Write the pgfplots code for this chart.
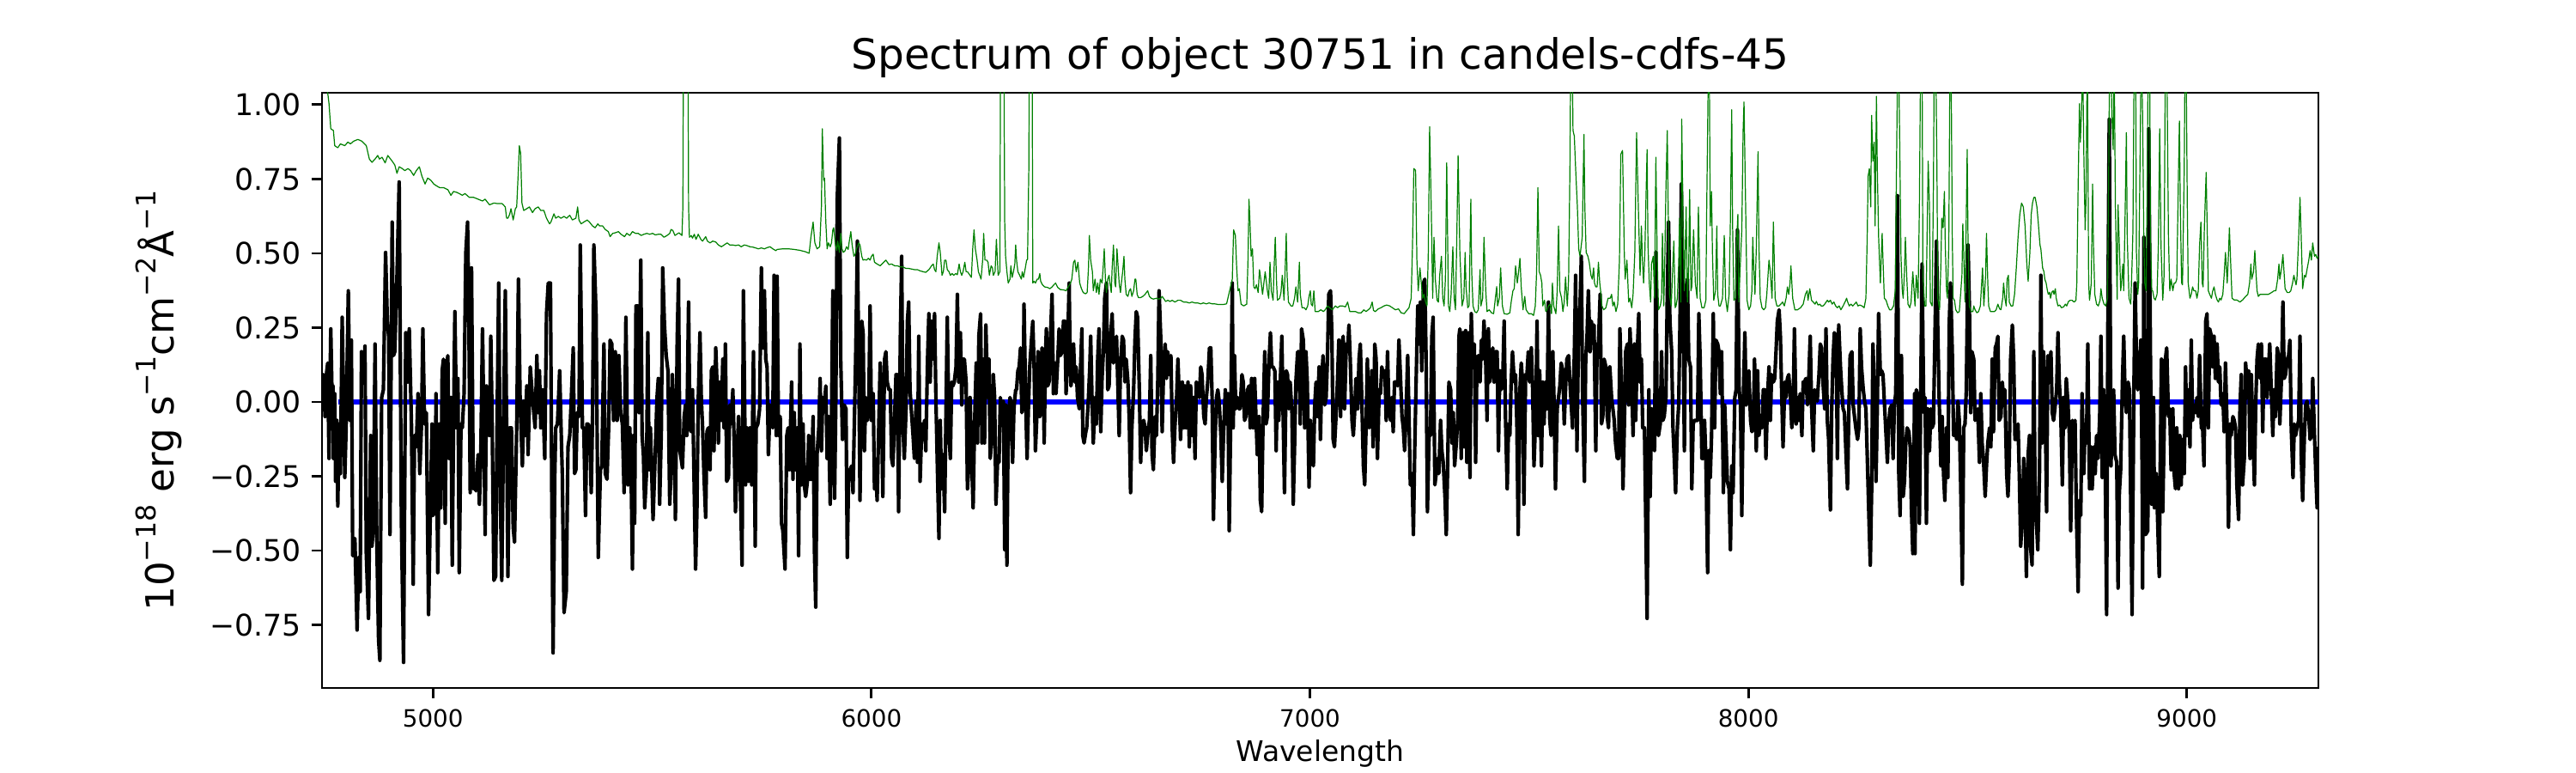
\documentclass[border=0pt]{standalone}
\usepackage{fontspec}
\setmainfont{DejaVu Sans}
\usepackage{pgfplots}
\pgfplotsset{compat=1.18}
\definecolor{mplgreen}{rgb}{0,0.5,0}
\newcommand{\sups}[1]{\raisebox{0.45em}{\fontsize{9.1}{10}\selectfont #1}}
\begin{document}
\begin{tikzpicture}
\path[use as bounding box] (0,0) rectangle (864pt,259.2pt);
\begin{axis}[
  at={(108pt,28.5pt)}, anchor=south west,
  width=669.6pt, height=199.6pt, scale only axis,
  xmin=4747, xmax=9300, ymin=-0.962, ymax=1.04,
  axis line style={line width=0.8pt},
  tick align=outside, xtick pos=bottom, ytick pos=left,
  major tick length=3.5pt,
  tick style={line width=0.8pt, black},
  xtick={5000,6000,7000,8000,9000},
  xticklabels={5000,6000,7000,8000,9000},
  ytick={-0.75,-0.5,-0.25,0,0.25,0.5,0.75,1},
  yticklabels={−0.75,−0.50,−0.25,0.00,0.25,0.50,0.75,1.00},
  xticklabel style={font=\fontsize{8}{9.6}\selectfont},
  yticklabel style={font=\fontsize{10}{12}\selectfont},
  title={Spectrum of object 30751 in candels-cdfs-45},
  title style={at={(axis description cs:0.5,1)}, anchor=base, yshift=1.8pt, font=\fontsize{14}{16.8}\selectfont},
  xlabel={Wavelength},
  xlabel style={at={(axis description cs:0.5,0)}, anchor=base, yshift=-24.5pt, font=\fontsize{9.5}{11.4}\selectfont},
  ylabel={10\sups{−18} erg s\sups{−1}cm\sups{−2}Å\sups{−1}},
  ylabel style={at={(axis description cs:-0.0817,0.4825)}, anchor=center, rotate=0, font=\fontsize{13}{15.6}\selectfont},
]
\addplot[blue, line width=1.6pt, mark=none] coordinates {(4785,0)(9300,0)};
\addplot[black, line width=1.2pt, line join=round, mark=none] coordinates {
(4747,0.067)(4750,0.092)(4754,-0.049)(4757,0.092)(4760,0.131)(4763,-0.190)(4767,0.246)(4770,0.015)(4772,0.054)(4773,-0.190)(4776,0.028)(4778,-0.267)(4781,-0.062)(4783,-0.350)(4786,-0.074)(4789,-0.241)(4793,0.285)(4796,0.015)(4799,-0.254)(4802,-0.087)(4807,0.374)(4811,-0.062)(4814,0.208)(4817,-0.517)(4822,-0.459)(4827,-0.767)(4831,-0.523)(4834,-0.638)(4837,0.169)(4842,0.067)(4845,0.188)(4848,-0.510)(4853,-0.728)(4858,-0.113)(4861,-0.485)(4864,-0.421)(4868,0.195)(4872,-0.472)(4876,-0.799)(4879,-0.869)(4883,0.015)(4887,0.041)(4892,0.503)(4896,0.272)(4899,0.221)(4902,-0.446)(4907,0.605)(4910,0.156)(4913,0.169)(4918,0.426)(4923,0.740)(4928,-0.395)(4933,-0.876)(4938,0.233)(4943,0.067)(4946,0.246)(4951,-0.074)(4955,-0.613)(4958,-0.113)(4962,-0.151)(4966,0.028)(4970,-0.241)(4974,-0.074)(4977,0.246)(4981,-0.074)(4985,-0.036)(4990,-0.715)(4994,-0.369)(4998,-0.074)(5000,-0.382)(5005,-0.369)(5007,0.028)(5011,-0.574)(5015,-0.074)(5018,-0.356)(5021,0.105)(5024,0.144)(5028,-0.408)(5031,0.118)(5034,0.156)(5037,-0.190)(5041,0.015)(5044,-0.549)(5047,-0.074)(5050,0.304)(5054,-0.087)(5057,0.079)(5060,-0.574)(5064,-0.074)(5067,-0.087)(5071,0.028)(5075,0.503)(5079,0.605)(5082,0.272)(5085,-0.305)(5088,0.451)(5092,-0.292)(5095,-0.241)(5098,-0.299)(5103,-0.177)(5106,-0.344)(5109,-0.190)(5113,0.246)(5116,-0.062)(5119,-0.446)(5122,0.054)(5126,-0.049)(5129,-0.113)(5132,0.221)(5135,-0.062)(5139,-0.600)(5143,-0.587)(5146,-0.100)(5150,0.400)(5154,-0.344)(5157,-0.600)(5161,-0.087)(5165,0.374)(5168,-0.074)(5171,-0.587)(5175,-0.087)(5179,-0.087)(5183,-0.421)(5186,-0.472)(5191,-0.087)(5195,0.413)(5199,-0.010)(5204,-0.215)(5207,0.003)(5210,-0.113)(5214,0.054)(5217,-0.177)(5222,0.118)(5227,0.015)(5230,-0.036)(5233,-0.087)(5237,0.156)(5240,-0.036)(5243,0.105)(5246,-0.087)(5250,0.041)(5255,-0.190)(5259,0.297)(5263,0.400)
(5268,0.400)(5271,-0.305)(5274,-0.844)(5278,-0.241)(5280,-0.087)(5284,-0.074)(5289,0.105)(5292,-0.074)(5295,-0.241)(5299,-0.709)(5304,-0.638)(5308,-0.151)(5312,-0.113)(5315,-0.010)(5320,0.182)(5323,-0.241)(5326,-0.228)(5329,-0.036)(5333,-0.049)(5336,0.528)(5341,-0.087)(5344,-0.087)(5348,-0.382)(5351,-0.074)(5354,-0.074)(5357,-0.087)(5361,-0.305)(5364,-0.049)(5367,0.528)(5372,0.297)(5377,-0.523)(5382,-0.228)(5385,-0.215)(5390,0.195)(5393,-0.241)(5397,-0.260)(5401,-0.074)(5404,0.208)(5408,0.195)(5412,-0.062)(5416,0.169)(5420,-0.062)(5424,0.156)(5428,-0.036)(5432,-0.074)(5436,-0.305)(5440,0.285)(5442,0.067)(5445,-0.279)(5449,-0.087)(5452,-0.241)(5455,-0.562)(5457,-0.113)(5460,-0.408)(5463,0.323)(5467,0.323)(5470,-0.036)(5474,0.477)(5477,-0.113)(5480,-0.177)(5483,-0.356)(5487,-0.241)(5490,0.233)(5493,-0.228)(5496,-0.087)(5499,-0.241)(5502,-0.395)(5506,-0.215)(5511,0.015)(5514,0.079)(5517,-0.344)(5521,-0.087)(5524,0.451)(5528,0.259)(5532,0.156)(5536,0.105)(5540,-0.344)(5543,-0.241)(5546,0.092)(5550,-0.074)(5553,-0.395)(5557,0.208)(5560,0.413)(5563,-0.164)(5566,-0.190)(5569,-0.222)(5573,-0.049)(5576,-0.010)(5579,-0.113)(5583,0.336)(5586,-0.087)(5589,-0.100)(5592,0.041)(5596,-0.305)(5599,-0.562)(5602,-0.369)(5605,0.003)(5609,0.233)(5612,0.015)(5615,-0.087)(5618,-0.241)(5622,-0.388)(5625,-0.100)(5628,-0.087)(5632,-0.228)(5635,0.105)(5638,0.118)(5641,-0.164)(5645,0.182)(5648,0.054)(5651,-0.138)(5654,0.067)(5658,-0.062)(5661,0.144)(5664,-0.087)(5667,0.195)(5670,-0.267)(5674,-0.254)(5677,-0.010)(5680,-0.074)(5684,0.041)(5687,-0.138)(5690,-0.369)(5694,-0.164)(5697,-0.049)(5701,-0.279)(5705,-0.549)(5708,0.374)(5713,-0.279)(5716,-0.087)(5720,-0.267)(5723,-0.087)(5727,-0.279)(5731,0.169)(5735,-0.485)(5737,-0.087)(5741,-0.074)(5745,-0.023)(5749,0.451)(5752,0.182)(5756,0.374)(5759,0.144)(5762,0.118)(5765,-0.177)(5769,-0.010)(5772,-0.062)(5775,-0.087)(5778,0.426)(5783,-0.113)
(5785,0.423)(5788,-0.113)(5792,-0.049)(5795,-0.408)(5798,-0.433)(5803,-0.562)(5807,-0.113)(5810,-0.087)(5813,-0.228)(5818,0.067)(5821,-0.260)(5824,-0.036)(5827,-0.228)(5831,-0.087)(5834,-0.517)(5837,0.195)(5840,-0.279)(5844,-0.074)(5847,-0.279)(5850,-0.318)(5854,-0.267)(5857,-0.113)(5860,-0.260)(5863,-0.260)(5867,-0.049)(5870,-0.497)(5873,-0.690)(5876,-0.177)(5880,-0.087)(5883,0.079)(5886,-0.164)(5889,0.015)(5893,-0.010)(5896,0.054)(5899,-0.190)(5902,-0.049)(5906,-0.344)(5909,-0.062)(5912,0.374)(5916,-0.324)(5919,0.015)(5922,0.682)(5927,0.888)(5930,0.144)(5934,-0.126)(5938,-0.010)(5942,-0.023)(5945,-0.523)(5948,-0.241)(5951,-0.228)(5955,-0.215)(5958,-0.305)(5961,-0.074)(5964,0.144)(5968,0.541)(5971,0.144)(5974,-0.331)(5978,0.272)(5981,0.233)(5984,-0.164)(5987,0.015)(5991,-0.062)(5994,0.003)(5997,0.323)(6000,-0.062)(6004,0.028)(6007,-0.292)(6010,-0.228)(6013,-0.331)(6017,-0.062)(6020,0.131)(6023,-0.010)(6026,-0.318)(6030,0.144)(6033,0.169)(6036,0.067)(6040,0.041)(6043,0.041)(6046,-0.190)(6049,-0.215)(6053,-0.049)(6056,0.092)(6059,0.092)(6062,-0.369)(6066,0.221)(6069,0.490)(6072,-0.087)(6075,-0.190)(6079,-0.023)(6082,0.272)(6085,0.336)(6088,0.041)(6092,-0.049)(6095,-0.113)(6098,-0.190)(6102,0.003)(6105,-0.203)(6108,0.221)(6111,-0.267)(6115,-0.074)(6118,-0.126)(6121,-0.062)(6124,-0.164)(6128,0.144)(6131,0.297)(6134,0.067)(6137,0.272)(6141,0.144)(6144,0.297)(6147,0.015)(6150,-0.190)(6154,-0.459)(6157,-0.062)(6160,-0.292)(6163,-0.177)(6167,-0.369)(6170,-0.036)(6173,0.285)(6177,-0.113)(6180,-0.190)(6183,0.067)(6186,0.054)(6189,0.067)(6193,0.118)(6196,0.362)(6199,0.067)(6203,0.233)(6206,-0.010)(6209,0.144)(6212,0.144)(6216,0.067)(6219,-0.292)(6222,-0.215)(6225,0.015)(6229,-0.215)(6232,-0.356)(6235,-0.087)(6239,0.131)(6242,-0.138)(6245,0.221)(6249,0.297)(6252,-0.138)(6255,0.144)(6258,-0.138)(6261,0.259)(6265,0.015)(6268,0.144)(6271,-0.190)(6275,-0.113)(6278,0.092)(6281,0.015)(6284,-0.344)(6288,-0.190)(6291,-0.203)(6294,0.015)(6297,-0.023)(6301,0.003)(6304,-0.497)
(6306,-0.010)(6309,-0.549)(6312,-0.062)(6316,0.015)(6318,0.003)(6322,-0.203)(6325,-0.023)(6329,0.041)(6331,0.041)(6334,0.105)(6337,0.118)(6340,0.182)(6343,-0.036)(6346,0.015)(6348,0.329)(6352,-0.010)(6355,-0.190)(6358,-0.023)(6361,0.118)(6365,0.208)(6368,0.272)(6371,0.118)(6374,-0.164)(6378,-0.023)(6380,0.169)(6384,-0.049)(6386,0.067)(6389,0.182)(6391,0.156)(6394,-0.138)(6397,0.156)(6399,0.246)(6402,0.054)(6405,0.067)(6408,0.208)(6412,0.362)(6415,0.028)(6418,0.131)(6421,0.028)(6425,0.144)(6428,0.246)(6431,0.156)(6435,0.169)(6438,0.272)(6441,0.272)(6444,0.028)(6448,0.221)(6451,0.400)(6453,0.144)(6455,0.054)(6458,0.092)(6461,0.195)(6464,0.067)(6467,0.118)(6470,0.015)(6474,-0.023)(6477,0.118)(6480,0.246)(6482,-0.113)(6485,-0.138)(6489,-0.100)(6491,-0.087)(6495,0.015)(6498,0.118)(6500,0.221)(6503,0.015)(6506,-0.138)(6510,0.015)(6513,-0.074)(6516,0.144)(6519,0.246)(6523,-0.100)(6526,0.079)(6529,0.169)(6532,0.349)(6536,0.400)(6539,0.041)(6542,0.054)(6545,0.208)(6549,0.297)(6552,0.131)(6555,0.156)(6559,0.221)(6562,0.054)(6565,-0.113)(6568,0.118)(6572,0.221)(6575,0.208)(6578,0.067)(6581,0.144)(6585,0.067)(6588,-0.062)(6591,-0.305)(6594,-0.087)(6598,0.041)(6601,0.208)(6604,0.304)(6607,0.285)(6611,0.041)(6614,-0.203)(6617,-0.074)(6621,-0.062)(6624,-0.087)(6627,-0.164)(6630,-0.113)(6634,-0.062)(6637,0.156)(6640,-0.177)(6643,-0.228)(6647,-0.049)(6650,-0.113)(6653,0.067)(6656,0.374)(6660,0.208)(6663,-0.100)(6666,0.092)(6670,0.195)(6673,0.079)(6676,0.169)(6679,0.092)(6683,0.156)(6686,-0.087)(6689,-0.203)(6692,-0.087)(6696,0.015)(6699,0.144)(6702,0.015)(6705,-0.126)(6709,0.067)(6712,-0.087)(6715,0.054)(6718,-0.087)(6722,0.067)(6725,-0.151)(6728,0.054)(6732,-0.113)(6735,0.015)(6738,-0.190)(6741,0.067)(6745,0.054)(6748,0.015)(6751,0.118)(6754,0.092)(6758,-0.049)(6761,-0.074)(6764,0.015)(6767,0.067)(6771,0.182)(6774,0.182)(6777,0.015)(6780,-0.395)(6784,-0.113)(6787,0.015)(6790,0.041)(6793,0.003)(6797,-0.113)(6800,-0.267)(6803,-0.113)(6807,0.041)(6810,-0.074)(6813,0.028)(6816,-0.433)(6820,0.015)(6823,0.400)
(6825,-0.087)(6828,0.156)(6831,-0.023)(6835,0.015)(6838,-0.023)(6841,-0.023)(6845,0.092)(6848,0.067)(6851,-0.062)(6854,-0.049)(6858,0.041)(6861,0.054)(6864,-0.087)(6867,0.079)(6871,-0.087)(6874,0.079)(6877,-0.049)(6880,-0.177)(6884,-0.049)(6887,-0.331)(6890,-0.369)(6893,-0.074)(6897,0.169)(6900,-0.074)(6903,-0.049)(6907,0.144)(6910,0.233)(6913,0.118)(6916,0.118)(6920,0.105)(6923,-0.164)(6926,0.067)(6929,-0.062)(6933,0.092)(6936,0.221)(6939,-0.049)(6942,-0.305)(6946,0.105)(6949,0.092)(6952,-0.023)(6955,0.067)(6959,-0.036)(6962,-0.344)(6965,-0.151)(6968,0.067)(6972,0.169)(6975,0.169)(6978,-0.074)(6981,0.246)(6985,0.208)(6988,-0.087)(6991,0.169)(6994,0.067)(6998,-0.286)(7001,-0.062)(7004,-0.151)(7008,-0.215)(7011,-0.010)(7014,0.067)(7017,-0.049)(7021,0.118)(7024,-0.126)(7027,0.079)(7030,0.156)(7034,-0.010)(7037,0.015)(7040,0.144)(7043,0.362)(7047,0.374)(7050,0.233)(7053,-0.126)(7056,-0.151)(7060,-0.036)(7063,0.079)(7066,0.208)(7070,-0.049)(7073,0.195)(7076,0.221)(7079,-0.023)(7083,0.195)(7086,0.169)(7089,0.259)(7092,0.144)(7096,-0.062)(7099,-0.113)(7102,-0.036)(7105,0.079)(7109,-0.023)(7112,0.144)(7115,0.195)(7118,0.028)(7122,-0.215)(7125,-0.279)(7128,-0.087)(7131,0.144)(7135,-0.087)(7138,-0.074)(7141,0.105)(7144,-0.151)(7148,0.195)(7151,0.144)(7154,-0.190)(7158,0.041)(7161,0.028)(7164,0.118)(7167,0.092)(7171,0.105)(7174,-0.062)(7177,0.169)(7180,-0.010)(7184,-0.062)(7187,0.015)(7190,-0.100)(7193,0.067)(7197,0.067)(7200,0.054)(7203,0.208)(7206,0.105)(7210,-0.049)(7213,-0.087)(7216,-0.164)(7219,-0.049)(7223,0.156)(7226,-0.049)(7229,-0.279)(7233,-0.241)(7236,-0.446)(7239,-0.164)(7242,0.054)(7246,0.323)(7249,0.195)(7252,0.336)(7255,0.105)(7259,0.400)(7262,0.413)(7265,0.144)(7268,-0.369)(7272,-0.100)(7275,-0.113)(7278,0.221)(7281,0.285)(7285,-0.279)(7288,-0.241)(7291,-0.190)(7294,-0.241)(7298,-0.062)(7301,-0.164)(7304,-0.203)(7308,-0.318)(7311,-0.446)(7314,-0.228)(7317,0.067)(7321,0.041)(7324,-0.138)(7327,-0.036)(7330,-0.215)(7334,-0.138)(7337,-0.062)(7340,0.221)
(7342,0.246)(7345,-0.190)(7349,0.233)(7352,-0.151)(7355,0.240)(7358,-0.203)(7362,0.233)(7365,-0.254)(7368,0.297)(7371,0.144)(7375,0.195)(7378,-0.203)(7381,0.144)(7384,0.156)(7388,0.067)(7391,0.208)(7394,0.144)(7397,0.272)(7401,0.131)(7404,-0.062)(7407,0.246)(7410,0.067)(7414,0.118)(7417,0.182)(7420,0.067)(7423,0.169)(7427,0.169)(7430,-0.164)(7433,0.105)(7436,0.041)(7440,0.092)(7443,0.272)(7446,-0.049)(7450,-0.292)(7453,-0.074)(7456,-0.113)(7459,0.067)(7462,0.169)(7466,0.067)(7469,0.092)(7472,-0.074)(7475,-0.446)(7479,0.041)(7482,0.131)(7485,0.067)(7488,-0.344)(7492,0.092)(7495,0.092)(7498,0.169)(7501,0.067)(7505,0.182)(7508,0.041)(7511,-0.215)(7515,-0.049)(7518,0.272)(7521,-0.113)(7524,0.105)(7528,-0.215)(7531,0.067)(7534,-0.074)(7537,0.067)(7541,-0.023)(7544,0.336)(7547,-0.062)(7550,-0.113)(7554,0.169)(7557,-0.010)(7560,-0.292)(7564,-0.023)(7567,0.015)(7570,0.054)(7573,0.131)(7577,0.105)(7580,-0.074)(7583,0.041)(7586,0.144)(7590,0.156)(7593,0.067)(7596,-0.010)(7599,-0.087)(7603,0.156)(7606,0.426)(7609,-0.164)(7613,0.272)(7616,0.323)(7619,0.490)(7622,0.015)(7626,-0.267)(7629,0.144)(7632,0.221)(7635,0.374)(7639,0.169)(7642,0.272)(7645,0.208)(7648,0.259)(7652,-0.164)(7655,0.195)(7658,0.195)(7662,0.362)(7665,-0.074)(7668,-0.049)(7671,0.144)(7675,0.118)(7678,-0.049)(7681,-0.087)(7684,0.118)(7688,0.015)(7691,-0.023)(7694,-0.062)(7697,-0.138)(7701,-0.190)(7704,-0.190)(7707,0.246)(7711,0.015)(7714,-0.292)(7717,-0.087)(7720,0.169)(7724,0.195)(7727,-0.010)(7730,0.246)(7733,0.118)(7737,-0.113)(7740,0.195)(7743,-0.062)(7746,0.144)(7750,0.297)(7753,0.067)(7756,0.144)(7759,-0.087)(7763,-0.087)(7766,-0.408)(7769,-0.728)(7773,0.041)(7776,-0.318)(7779,-0.023)(7782,-0.138)(7786,-0.164)(7789,0.504)(7792,-0.062)(7795,-0.113)(7799,-0.074)(7802,0.169)(7805,-0.062)(7808,-0.049)(7812,0.015)(7815,0.362)(7818,0.605)(7821,0.272)(7825,0.169)(7828,-0.087)(7831,-0.190)(7834,-0.305)(7838,-0.087)(7841,-0.010)(7844,0.272)(7847,0.733)(7851,0.323)(7854,-0.164)(7857,0.374)
(7861,0.413)(7864,0.144)(7868,0.118)(7871,-0.292)(7874,-0.074)(7877,-0.062)(7881,-0.062)(7884,-0.062)(7887,0.297)(7890,0.144)(7894,-0.190)(7897,-0.190)(7900,-0.062)(7903,-0.190)(7907,-0.574)(7910,-0.164)(7913,-0.254)(7916,-0.113)(7920,0.297)(7923,-0.087)(7926,0.208)(7930,0.195)(7933,0.169)(7936,0.028)(7939,0.169)(7943,-0.305)(7946,-0.010)(7949,-0.138)(7952,-0.267)(7956,-0.292)(7959,-0.497)(7962,-0.215)(7965,-0.305)(7969,0.015)(7972,0.041)(7975,0.579)(7979,0.041)(7982,-0.010)(7985,-0.382)(7988,-0.010)(7992,0.233)(7995,-0.010)(7998,0.092)(8001,0.105)(8005,-0.062)(8008,-0.100)(8011,-0.087)(8014,0.144)(8018,-0.164)(8021,0.105)(8024,-0.113)(8027,-0.074)(8031,-0.087)(8034,0.041)(8037,0.041)(8040,-0.190)(8044,0.028)(8047,0.118)(8050,-0.062)(8053,0.092)(8057,0.067)(8060,0.079)(8063,0.169)(8066,0.272)(8070,0.310)(8073,0.221)(8076,0.028)(8079,-0.151)(8083,0.067)(8086,0.015)(8089,0.079)(8092,0.092)(8096,0.015)(8099,-0.087)(8102,-0.023)(8105,0.246)(8109,-0.074)(8112,0.015)(8115,-0.062)(8118,0.028)(8122,-0.113)(8125,0.067)(8128,0.067)(8131,0.079)(8135,-0.010)(8138,0.092)(8141,0.221)(8144,-0.010)(8148,-0.164)(8151,0.041)(8154,0.028)(8157,0.003)(8161,0.092)(8164,0.195)(8167,0.182)(8170,0.067)(8174,-0.023)(8177,0.246)(8180,-0.062)(8183,-0.126)(8187,-0.363)(8190,-0.023)(8193,0.144)(8196,0.233)(8200,0.221)(8203,-0.190)(8206,0.259)(8210,0.118)(8213,0.041)(8216,-0.023)(8219,-0.036)(8223,-0.190)(8226,-0.292)(8229,-0.036)(8232,0.156)(8236,0.169)(8239,-0.010)(8242,-0.049)(8245,-0.087)(8249,-0.126)(8252,-0.087)(8255,0.246)(8258,0.118)(8262,0.041)(8265,0.003)(8268,-0.023)(8271,-0.177)(8275,-0.395)(8278,-0.549)(8281,-0.305)(8284,0.195)(8288,0.015)(8291,-0.267)(8294,-0.023)(8297,0.297)(8301,0.092)(8304,0.105)(8307,0.092)(8310,0.003)(8314,-0.113)(8317,-0.203)(8320,-0.074)(8323,-0.023)(8327,-0.010)(8330,-0.190)(8333,-0.010)(8336,0.028)(8340,0.694)(8343,-0.241)(8346,-0.382)(8349,0.156)(8353,-0.318)(8356,-0.267)(8359,-0.138)(8362,-0.087)(8366,-0.100)(8369,-0.151)(8372,-0.369)(8375,-0.510)(8379,0.028)
(8380,-0.510)(8383,0.041)(8387,0.015)(8390,-0.408)(8393,0.015)(8396,0.464)(8400,-0.036)(8403,0.015)(8406,-0.408)(8409,-0.023)(8413,-0.164)(8416,-0.023)(8419,-0.087)(8422,-0.074)(8426,0.272)(8429,0.541)(8432,0.233)(8435,0.015)(8439,-0.215)(8442,-0.049)(8445,-0.241)(8448,-0.331)(8452,-0.087)(8455,-0.254)(8458,0.259)(8461,0.400)(8465,0.169)(8468,-0.113)(8471,-0.087)(8475,-0.126)(8478,0.003)(8481,-0.062)(8484,-0.267)(8488,-0.613)(8491,-0.087)(8494,-0.074)(8497,0.041)(8501,0.528)(8504,0.323)(8507,-0.036)(8510,0.169)(8514,0.144)(8517,-0.062)(8520,-0.049)(8523,-0.023)(8527,-0.203)(8530,0.028)(8533,-0.138)(8536,-0.190)(8540,-0.318)(8543,-0.215)(8546,-0.138)(8550,-0.087)(8553,-0.151)(8556,0.144)(8559,-0.100)(8563,0.182)(8566,0.195)(8569,0.221)(8572,-0.062)(8576,-0.049)(8579,0.067)(8582,0.015)(8585,0.041)(8589,-0.241)(8592,-0.318)(8595,-0.190)(8598,0.144)(8602,0.259)(8605,0.144)(8608,-0.126)(8611,-0.126)(8615,-0.074)(8618,-0.254)(8621,-0.485)(8625,-0.382)(8628,-0.190)(8631,-0.344)(8634,-0.587)(8638,-0.177)(8641,-0.113)(8644,-0.497)(8647,-0.549)(8651,0.169)(8654,-0.344)(8657,-0.408)(8660,-0.497)(8664,-0.228)(8667,0.426)(8670,-0.138)(8673,0.169)(8677,-0.010)(8680,-0.369)(8683,0.156)(8686,0.105)(8690,0.169)(8693,-0.036)(8696,-0.062)(8699,-0.023)(8703,0.041)(8706,0.233)(8709,0.067)(8712,-0.010)(8716,-0.279)(8719,0.015)(8722,-0.087)(8725,0.079)(8729,-0.010)(8732,-0.113)(8735,-0.433)(8739,-0.062)(8742,-0.087)(8745,-0.062)(8748,-0.369)(8752,-0.638)(8755,-0.331)(8758,-0.382)(8761,0.028)(8765,-0.241)(8768,-0.074)(8771,-0.138)(8774,0.195)(8778,-0.292)(8781,-0.151)(8784,-0.292)(8788,-0.151)(8791,-0.241)(8794,-0.113)(8797,-0.190)(8801,-0.062)(8804,0.221)(8807,-0.254)(8810,0.041)(8814,-0.241)(8817,-0.715)(8820,0.323)(8823,0.951)(8827,-0.215)(8830,-0.023)(8833,0.041)(8836,-0.177)(8840,-0.203)(8843,-0.626)(8846,-0.305)(8849,-0.228)(8853,0.067)(8856,0.221)(8859,0.028)(8862,-0.036)(8866,0.067)(8869,0.041)(8872,-0.344)(8875,-0.715)(8879,0.015)(8882,0.400)(8885,0.144)(8888,0.041)(8892,0.118)(8895,0.208)(8898,-0.241)
(8899,-0.626)(8902,0.554)(8906,-0.446)(8911,-0.433)(8913,0.919)(8917,0.144)(8920,-0.344)(8924,0.015)(8926,-0.356)(8930,-0.241)(8933,-0.382)(8937,-0.587)(8939,-0.241)(8942,0.144)(8945,-0.369)(8948,-0.113)(8951,0.144)(8954,0.182)(8958,-0.049)(8961,-0.023)(8964,-0.228)(8968,-0.023)(8971,-0.241)(8974,-0.292)(8977,-0.087)(8981,-0.292)(8984,-0.113)(8987,-0.279)(8990,-0.126)(8994,-0.241)(8997,0.118)(9000,-0.113)(9003,0.041)(9007,-0.151)(9010,0.208)(9013,-0.062)(9016,-0.010)(9020,-0.036)(9023,0.015)(9026,-0.049)(9029,0.156)(9033,-0.087)(9036,-0.087)(9039,-0.215)(9043,0.272)(9046,0.297)(9049,-0.087)(9052,0.246)(9056,0.221)(9059,0.118)(9062,0.221)(9065,0.079)(9069,0.195)(9072,0.067)(9075,0.118)(9078,-0.010)(9082,0.028)(9085,-0.100)(9088,0.131)(9092,-0.100)(9095,-0.421)(9098,-0.074)(9101,-0.113)(9105,-0.049)(9108,-0.062)(9111,-0.087)(9114,-0.279)(9118,-0.395)(9121,-0.023)(9124,0.092)(9127,-0.279)(9131,-0.190)(9134,0.131)(9137,0.067)(9141,0.105)(9144,-0.190)(9147,0.092)(9150,-0.074)(9154,-0.279)(9157,-0.010)(9160,0.144)(9163,0.195)(9167,0.079)(9170,0.195)(9173,-0.100)(9176,0.144)(9180,0.144)(9183,0.015)(9186,0.105)(9189,0.195)(9193,0.015)(9196,-0.113)(9199,0.041)(9202,-0.049)(9206,0.182)(9209,0.156)(9212,-0.074)(9216,0.092)(9219,0.336)(9222,0.079)(9225,0.092)(9229,0.144)(9232,0.156)(9235,0.208)(9238,-0.087)(9242,-0.254)(9245,-0.074)(9248,-0.113)(9251,-0.087)(9255,-0.062)(9258,0.221)(9261,-0.190)(9264,-0.331)(9268,-0.113)(9271,-0.010)(9274,0.003)(9278,-0.049)(9281,-0.126)(9284,-0.113)(9287,0.079)(9291,-0.113)(9294,-0.241)(9297,-0.356)(9300,-0.151)
};
\addplot[mplgreen, line width=0.35pt, line join=round, mark=none] coordinates {
(4747,1.30)(4755,1.12)(4760,1.04)(4763,1.003)(4767,0.919)(4773,0.913)(4776,0.862)(4783,0.855)(4789,0.868)(4799,0.862)(4806,0.874)(4812,0.868)(4819,0.877)(4829,0.883)(4838,0.877)(4848,0.862)(4855,0.817)(4861,0.806)(4868,0.817)(4874,0.829)(4878,0.817)(4884,0.823)(4891,0.804)(4897,0.829)(4907,0.810)(4913,0.797)(4918,0.769)(4923,0.791)(4930,0.785)(4936,0.778)(4943,0.785)(4949,0.778)(4956,0.762)(4962,0.778)(4969,0.791)(4975,0.759)(4982,0.733)(4988,0.753)(4995,0.746)(5002,0.733)(5008,0.727)(5015,0.721)(5024,0.721)(5034,0.714)(5041,0.695)(5047,0.708)(5054,0.705)(5060,0.701)(5067,0.695)(5073,0.701)(5083,0.688)(5093,0.688)(5103,0.682)(5113,0.676)(5119,0.682)(5129,0.663)(5139,0.669)(5148,0.667)(5158,0.667)(5165,0.656)(5168,0.618)(5171,0.618)(5175,0.631)(5178,0.650)(5183,0.612)(5188,0.650)(5191,0.656)(5195,0.785)(5197,0.862)(5200,0.836)(5203,0.669)(5207,0.644)(5214,0.650)(5220,0.656)(5227,0.637)(5233,0.650)(5240,0.656)(5246,0.644)(5253,0.644)(5259,0.618)(5266,0.599)
(5269,0.605)(5276,0.633)(5280,0.618)(5286,0.624)(5292,0.618)(5299,0.624)(5305,0.618)(5312,0.628)(5318,0.612)(5326,0.618)(5330,0.656)(5333,0.612)(5338,0.599)(5344,0.605)(5352,0.612)(5357,0.605)(5364,0.592)(5370,0.586)(5376,0.599)(5380,0.592)(5387,0.592)(5393,0.580)(5400,0.573)(5404,0.556)(5410,0.567)(5416,0.569)(5423,0.573)(5429,0.564)(5437,0.556)(5442,0.567)(5449,0.560)(5455,0.573)(5462,0.567)(5468,0.567)(5475,0.560)(5481,0.564)(5488,0.567)(5494,0.564)(5501,0.567)(5507,0.562)(5514,0.564)(5520,0.564)(5527,0.554)(5534,0.560)(5540,0.567)(5543,0.580)(5547,0.577)(5552,0.560)(5556,0.564)(5561,0.569)(5568,0.560)(5570,0.656)(5572,1.5)(5575,2.0)(5578,1.8)(5581,1.5)(5583,0.656)(5585,0.554)(5589,0.560)(5592,0.551)(5596,0.564)(5600,0.547)(5605,0.564)(5611,0.547)(5615,0.541)(5622,0.556)(5626,0.541)(5632,0.535)(5638,0.541)(5645,0.538)(5651,0.528)(5658,0.522)(5664,0.528)(5671,0.535)(5677,0.528)(5684,0.528)(5690,0.526)(5697,0.528)(5703,0.522)(5710,0.528)(5716,0.526)(5723,0.522)(5729,0.521)(5736,0.518)(5742,0.515)(5749,0.518)(5756,0.515)(5762,0.519)(5769,0.522)(5775,0.515)(5782,0.509)
(5785,0.513)(5798,0.515)(5811,0.515)(5824,0.513)(5837,0.510)(5850,0.505)(5858,0.500)(5862,0.554)(5867,0.605)(5871,0.535)(5876,0.515)(5882,0.522)(5886,0.656)(5888,0.919)(5891,0.746)(5893,0.753)(5896,0.605)(5899,0.515)(5902,0.535)(5906,0.522)(5909,0.535)(5912,0.579)(5914,0.586)(5918,0.528)(5921,0.509)(5923,0.541)(5927,0.503)(5930,0.567)(5933,0.515)(5936,0.503)(5940,0.509)(5943,0.522)(5947,0.513)(5949,0.535)(5953,0.573)(5956,0.528)(5960,0.490)(5963,0.497)(5966,0.515)(5971,0.535)(5974,0.528)(5978,0.490)(5981,0.477)(5984,0.479)(5989,0.477)(5993,0.483)(5997,0.477)(6000,0.490)(6004,0.497)(6007,0.470)(6013,0.464)(6020,0.458)(6026,0.467)(6033,0.477)(6040,0.462)(6046,0.464)(6053,0.458)(6059,0.458)(6066,0.454)(6072,0.454)(6079,0.449)(6085,0.449)(6092,0.447)(6098,0.445)(6105,0.445)(6111,0.441)(6118,0.438)(6124,0.436)(6131,0.445)(6134,0.451)(6137,0.458)(6141,0.464)(6144,0.445)(6147,0.438)(6150,0.490)(6154,0.535)(6157,0.503)(6161,0.426)(6164,0.438)(6167,0.477)(6170,0.477)(6173,0.445)(6177,0.438)(6180,0.426)(6184,0.432)(6188,0.426)(6192,0.432)(6196,0.428)(6200,0.464)(6203,0.438)(6206,0.426)(6209,0.438)(6213,0.470)(6216,0.438)(6219,0.438)(6222,0.432)(6228,0.419)(6231,0.515)(6234,0.579)(6237,0.515)(6241,0.477)(6244,0.438)(6247,0.426)(6250,0.413)(6254,0.483)(6256,0.567)(6259,0.477)(6263,0.477)(6266,0.470)(6269,0.426)(6273,0.458)(6276,0.451)(6278,0.426)(6282,0.438)(6285,0.547)(6289,0.426)(6293,0.438)(6295,1.5)(6298,1.7)(6301,1.5)(6304,0.605)
(6306,0.490)(6309,0.438)(6312,0.400)(6316,0.413)(6318,0.458)(6321,0.419)(6324,0.438)(6327,0.464)(6329,0.528)(6331,0.477)(6334,0.438)(6338,0.426)(6342,0.413)(6344,0.438)(6347,0.419)(6351,0.451)(6354,0.477)(6356,0.479)(6359,0.785)(6361,1.5)(6363,1.7)(6366,1.5)(6368,0.400)(6371,0.406)(6374,0.400)(6378,0.413)(6381,0.413)(6384,0.432)(6386,0.406)(6390,0.394)(6395,0.387)(6402,0.385)(6407,0.381)(6412,0.387)(6416,0.394)(6420,0.400)(6425,0.385)(6431,0.378)(6438,0.377)(6444,0.374)(6449,0.387)(6454,0.400)(6457,0.413)(6461,0.470)(6464,0.477)(6467,0.438)(6471,0.470)(6475,0.400)(6479,0.381)(6483,0.368)(6488,0.364)(6492,0.368)(6495,0.451)(6497,0.560)(6500,0.477)(6504,0.438)(6506,0.374)(6510,0.413)(6513,0.368)(6516,0.400)(6519,0.362)(6522,0.413)(6526,0.400)(6529,0.464)(6531,0.515)(6534,0.400)(6536,0.368)(6539,0.413)(6542,0.426)(6544,0.400)(6547,0.368)(6549,0.451)(6552,0.528)(6555,0.400)(6557,0.387)(6560,0.515)(6562,0.470)(6565,0.400)(6568,0.368)(6570,0.400)(6573,0.438)(6576,0.490)(6578,0.413)(6581,0.362)(6585,0.355)(6588,0.374)(6591,0.381)(6594,0.355)(6598,0.374)(6601,0.413)(6603,0.413)(6606,0.362)(6609,0.351)(6614,0.351)(6619,0.355)(6624,0.362)(6627,0.368)(6630,0.374)(6634,0.355)(6638,0.349)(6643,0.346)(6650,0.349)(6655,0.346)(6660,0.349)(6663,0.355)(6666,0.349)(6671,0.338)(6676,0.342)(6681,0.338)(6686,0.342)(6692,0.336)(6699,0.342)(6705,0.342)(6712,0.336)(6718,0.336)(6725,0.333)(6731,0.336)(6738,0.333)(6744,0.333)(6751,0.330)(6757,0.333)(6764,0.330)(6770,0.333)(6777,0.330)(6783,0.330)(6790,0.328)(6797,0.328)(6803,0.328)(6810,0.330)
(6823,0.413)(6826,0.579)(6830,0.560)(6833,0.451)(6836,0.374)(6839,0.381)(6843,0.329)(6849,0.323)(6856,0.329)(6859,0.490)(6861,0.682)(6863,0.618)(6866,0.490)(6869,0.515)(6872,0.387)(6875,0.381)(6878,0.394)(6882,0.368)(6885,0.445)(6888,0.413)(6892,0.362)(6895,0.400)(6898,0.438)(6900,0.413)(6903,0.374)(6906,0.349)(6909,0.470)(6912,0.374)(6916,0.342)(6918,0.438)(6921,0.554)(6924,0.400)(6926,0.342)(6931,0.349)(6934,0.368)(6937,0.426)(6941,0.342)(6944,0.464)(6946,0.567)(6948,0.426)(6951,0.336)(6957,0.323)(6961,0.323)(6965,0.349)(6968,0.387)(6972,0.336)(6976,0.470)(6978,0.362)(6982,0.317)(6987,0.317)(6991,0.310)(6995,0.323)(6998,0.355)(7001,0.374)(7003,0.329)(7006,0.323)(7009,0.374)(7012,0.304)(7019,0.304)(7025,0.310)(7031,0.304)(7035,0.310)(7040,0.323)(7045,0.317)(7051,0.310)(7058,0.323)(7063,0.317)(7068,0.323)(7074,0.323)(7081,0.320)(7086,0.336)(7091,0.304)(7097,0.304)(7104,0.304)(7110,0.300)(7117,0.300)(7123,0.310)(7128,0.304)(7133,0.310)(7138,0.317)(7142,0.336)(7145,0.308)(7149,0.304)(7156,0.313)(7162,0.317)(7169,0.323)(7175,0.326)(7182,0.323)(7188,0.317)(7195,0.310)(7202,0.313)(7208,0.300)(7215,0.297)(7221,0.308)(7226,0.317)(7231,0.349)(7234,0.528)(7237,0.785)(7241,0.779)(7244,0.477)(7247,0.374)(7251,0.451)(7254,0.400)(7257,0.349)(7260,0.362)(7264,0.336)(7267,0.323)(7270,0.503)(7273,0.926)(7277,0.631)(7280,0.349)(7283,0.554)(7286,0.413)(7290,0.342)(7293,0.336)(7296,0.426)(7300,0.490)(7303,0.349)(7306,0.323)(7309,0.413)(7312,0.804)(7316,0.323)(7319,0.304)(7322,0.362)(7326,0.522)(7329,0.349)(7332,0.310)(7335,0.554)(7338,0.829)(7342,0.503)
(7347,0.323)(7351,0.349)(7354,0.503)(7356,0.388)(7360,0.317)(7363,0.323)(7367,0.682)(7369,0.438)(7372,0.323)(7376,0.304)(7380,0.300)(7384,0.310)(7388,0.445)(7390,0.323)(7394,0.349)(7397,0.554)(7401,0.374)(7404,0.304)(7409,0.310)(7414,0.300)(7419,0.297)(7423,0.349)(7426,0.388)(7428,0.323)(7432,0.349)(7435,0.451)(7439,0.323)(7443,0.297)(7450,0.295)(7456,0.300)(7459,0.336)(7463,0.374)(7466,0.381)(7469,0.458)(7473,0.400)(7476,0.438)(7479,0.483)(7482,0.385)(7486,0.310)(7490,0.355)(7493,0.310)(7499,0.297)(7505,0.297)(7510,0.291)(7514,0.323)(7517,0.438)(7520,0.721)(7523,0.438)(7526,0.426)(7529,0.400)(7531,0.323)(7535,0.342)(7538,0.304)(7541,0.310)(7544,0.323)(7548,0.329)(7551,0.297)(7553,0.400)(7556,0.323)(7561,0.297)(7564,0.374)(7567,0.592)(7570,0.374)(7574,0.349)(7577,0.304)(7580,0.336)(7583,0.420)(7587,0.323)(7590,0.413)(7593,0.785)(7595,1.2)(7598,1.2)(7600,0.913)(7603,0.894)(7606,0.785)(7610,0.656)(7613,0.515)(7616,0.490)(7621,0.554)(7625,0.900)(7627,0.656)(7630,0.503)(7634,0.490)(7637,0.470)(7641,0.426)(7644,0.413)(7647,0.451)(7649,0.400)(7652,0.387)(7655,0.387)(7658,0.470)(7661,0.400)(7663,0.374)(7666,0.323)(7670,0.310)(7675,0.317)(7680,0.349)(7685,0.349)(7688,0.362)(7691,0.323)(7694,0.336)(7698,0.304)(7702,0.329)(7706,0.477)(7709,0.833)(7713,0.846)(7717,0.503)(7719,0.413)(7723,0.477)(7727,0.336)(7730,0.349)(7734,0.317)(7737,0.362)(7741,0.503)(7745,0.906)(7749,0.656)(7753,0.426)(7756,0.592)(7758,0.490)(7761,0.400)(7764,0.509)(7766,0.656)(7769,0.849)(7771,0.528)(7774,0.400)(7777,0.336)(7779,0.464)(7783,0.490)(7786,0.349)(7789,0.823)(7792,0.490)(7795,0.310)(7799,0.323)(7802,0.349)(7804,0.567)(7807,0.323)(7809,0.451)(7812,0.721)(7815,0.913)(7817,0.656)(7820,0.362)(7824,0.323)(7827,0.432)(7830,0.541)(7833,0.317)(7835,0.323)(7838,0.349)(7841,0.464)(7843,0.618)(7846,0.336)(7848,0.951)(7851,0.592)(7854,0.374)(7858,0.656)(7861,0.336)
(7864,0.464)(7866,0.714)(7869,0.374)(7871,0.388)(7875,0.579)(7879,0.400)(7883,0.349)(7886,0.656)(7890,0.349)(7894,0.317)(7899,0.317)(7903,0.342)(7905,0.656)(7908,1.035)(7911,1.1)(7913,0.592)(7916,0.708)(7918,0.503)(7921,0.342)(7925,0.374)(7928,0.592)(7930,0.362)(7933,0.323)(7936,0.323)(7941,0.349)(7945,0.560)(7948,0.349)(7952,0.304)(7956,0.362)(7959,0.618)(7962,0.983)(7964,0.592)(7967,0.342)(7971,0.349)(7973,0.528)(7976,0.631)(7978,0.336)(7982,0.477)(7985,0.579)(7988,0.913)(7990,1.009)(7994,0.631)(7997,0.342)(8001,0.310)(8005,0.323)(8008,0.374)(8010,0.554)(8012,0.464)(8015,0.362)(8018,0.515)(8022,0.842)(8024,0.528)(8027,0.349)(8031,0.317)(8035,0.310)(8039,0.317)(8042,0.362)(8047,0.477)(8050,0.438)(8054,0.349)(8057,0.605)(8061,0.349)(8065,0.323)(8070,0.323)(8074,0.329)(8078,0.336)(8082,0.323)(8086,0.349)(8089,0.387)(8092,0.362)(8095,0.400)(8097,0.458)(8101,0.349)(8106,0.310)(8112,0.310)(8119,0.317)(8125,0.329)(8130,0.362)(8134,0.374)(8136,0.342)(8140,0.381)(8144,0.342)(8148,0.336)(8152,0.329)(8155,0.338)(8159,0.326)(8163,0.329)(8166,0.323)(8170,0.323)(8174,0.329)(8180,0.342)(8183,0.336)(8187,0.342)(8191,0.329)(8195,0.336)(8199,0.323)(8203,0.317)(8207,0.323)(8211,0.310)(8216,0.323)(8221,0.338)(8224,0.349)(8226,0.338)(8230,0.323)(8234,0.329)(8238,0.323)(8242,0.329)(8246,0.336)(8250,0.323)(8254,0.326)(8259,0.323)(8264,0.317)(8268,0.349)(8271,0.554)(8273,0.759)(8276,0.785)(8279,0.656)(8281,0.964)(8284,0.810)(8287,0.874)(8289,0.592)(8292,1.028)(8294,0.785)(8297,0.554)(8301,0.400)(8305,0.567)(8307,0.477)(8310,0.349)(8314,0.342)(8318,0.323)(8322,0.310)(8326,0.310)(8331,0.323)(8335,0.374)(8337,0.682)(8340,1.1)(8343,1.1)(8345,0.887)(8348,0.490)(8351,0.374)(8353,0.349)(8356,0.438)(8358,0.554)(8361,0.426)(8364,0.329)(8368,0.317)(8371,0.336)(8375,0.438)(8380,0.323)
(8383,0.426)(8387,0.349)(8390,0.656)(8393,1.2)(8396,1.2)(8398,0.426)(8402,0.323)(8405,0.323)(8407,0.503)(8410,0.810)(8413,0.656)(8415,0.336)(8419,0.323)(8422,0.720)(8424,1.2)(8427,1.2)(8430,0.785)(8432,0.349)(8436,0.310)(8439,0.464)(8441,0.618)(8444,0.586)(8447,0.708)(8449,0.528)(8452,0.374)(8454,0.349)(8457,0.528)(8460,1.2)(8462,1.2)(8465,0.554)(8467,0.349)(8470,0.342)(8473,0.310)(8477,0.300)(8481,0.304)(8484,0.362)(8487,0.426)(8489,0.599)(8491,0.503)(8494,0.336)(8496,0.528)(8499,0.849)(8501,0.528)(8504,0.323)(8508,0.304)(8512,0.304)(8514,0.323)(8517,0.310)(8521,0.300)(8525,0.304)(8529,0.323)(8531,0.374)(8534,0.451)(8537,0.323)(8541,0.426)(8543,0.567)(8546,0.400)(8548,0.323)(8552,0.304)(8556,0.304)(8561,0.304)(8565,0.310)(8569,0.329)(8573,0.313)(8576,0.310)(8580,0.349)(8582,0.400)(8585,0.349)(8588,0.323)(8590,0.413)(8593,0.426)(8595,0.336)(8599,0.323)(8603,0.323)(8607,0.362)(8611,0.451)(8615,0.554)(8619,0.631)(8623,0.669)(8627,0.656)(8631,0.592)(8635,0.464)(8638,0.406)(8642,0.503)(8645,0.631)(8648,0.669)(8651,0.688)(8654,0.688)(8658,0.656)(8661,0.605)(8665,0.528)(8667,0.515)(8671,0.451)(8674,0.438)(8676,0.413)(8679,0.400)(8682,0.374)(8684,0.362)(8687,0.369)(8689,0.349)(8692,0.369)(8695,0.374)(8697,0.362)(8700,0.381)(8702,0.349)(8706,0.323)(8710,0.326)(8714,0.317)(8719,0.320)(8723,0.329)(8726,0.323)(8730,0.338)(8734,0.342)(8738,0.342)(8743,0.336)(8747,0.342)(8749,0.400)(8752,0.721)(8755,1.003)(8757,0.874)(8760,0.990)(8762,1.2)(8765,0.836)(8768,0.579)(8770,0.682)(8773,1.2)(8776,0.400)(8778,0.342)(8782,0.400)(8785,0.733)(8787,0.528)(8790,0.362)(8794,0.329)(8798,0.323)(8802,0.342)(8804,0.381)(8807,0.349)(8811,0.329)(8815,0.323)(8819,0.349)(8821,0.631)(8824,1.2)(8826,1.2)(8829,0.964)(8832,0.849)(8834,1.2)(8837,0.656)(8841,0.345)(8843,0.663)(8846,0.528)(8849,0.374)(8851,0.400)(8854,0.464)(8856,0.374)(8859,0.618)(8862,0.906)(8864,0.554)(8868,0.349)(8872,0.329)(8875,0.464)(8877,0.579)(8880,1.2)(8883,1.2)(8885,0.502)(8888,0.362)(8890,0.400)(8893,0.785)(8896,1.2)
(8899,0.964)(8902,0.528)(8904,0.400)(8907,0.374)(8909,0.656)(8912,1.2)(8915,1.2)(8917,0.554)(8920,0.374)(8922,0.374)(8925,0.349)(8928,0.343)(8932,0.362)(8935,0.528)(8938,0.919)(8941,0.528)(8945,0.342)(8948,0.426)(8951,1.2)(8954,1.2)(8958,0.554)(8961,0.374)(8964,0.413)(8968,0.374)(8971,0.400)(8974,0.400)(8977,0.413)(8981,0.785)(8983,0.945)(8985,0.656)(8988,0.400)(8990,0.394)(8994,0.785)(8996,1.2)(8998,1.2)(9001,0.656)(9003,0.400)(9007,0.349)(9010,0.362)(9013,0.387)(9016,0.374)(9020,0.374)(9023,0.349)(9026,0.374)(9029,0.528)(9032,0.605)(9035,0.400)(9037,0.387)(9040,0.592)(9044,0.772)(9047,0.528)(9049,0.374)(9052,0.362)(9056,0.349)(9059,0.374)(9062,0.387)(9065,0.362)(9069,0.343)(9072,0.336)(9075,0.349)(9078,0.343)(9082,0.362)(9085,0.426)(9088,0.503)(9092,0.400)(9095,0.503)(9097,0.586)(9100,0.464)(9103,0.349)(9108,0.343)(9114,0.343)(9121,0.336)(9127,0.343)(9134,0.355)(9139,0.362)(9143,0.400)(9146,0.464)(9148,0.413)(9152,0.438)(9155,0.509)(9157,0.451)(9160,0.374)(9163,0.355)(9167,0.362)(9173,0.362)(9180,0.362)(9186,0.362)(9193,0.368)(9199,0.374)(9203,0.374)(9207,0.413)(9210,0.464)(9212,0.413)(9216,0.451)(9219,0.496)(9221,0.451)(9224,0.381)(9229,0.368)(9233,0.368)(9237,0.374)(9241,0.400)(9244,0.426)(9246,0.413)(9249,0.394)(9251,0.413)(9255,0.554)(9258,0.688)(9261,0.541)(9264,0.381)(9268,0.426)(9271,0.420)(9274,0.445)(9278,0.477)(9281,0.509)(9284,0.477)(9287,0.535)(9291,0.490)(9294,0.496)(9297,0.483)(9300,0.490)
};
\end{axis}
\end{tikzpicture}
\end{document}
